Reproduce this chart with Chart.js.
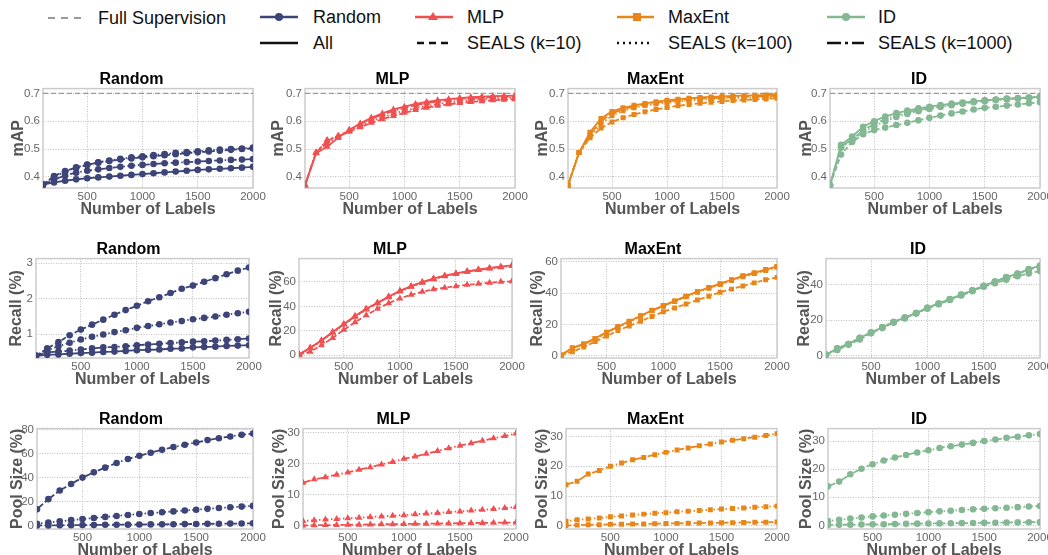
<!DOCTYPE html>
<html>
<head>
<meta charset="utf-8">
<script src="https://cdn.jsdelivr.net/npm/chart.js@4.4.1/dist/chart.umd.min.js"></script>
<style>
  body { margin: 0; width: 1048px; height: 555px; overflow: hidden; background: #fff; position: relative; }
  canvas { position: absolute; }
  #legend { position: absolute; left: 0; top: 0; }
</style>
</head>
<body>
<svg id="legend" width="1048" height="60" font-family="Liberation Sans, Arial, sans-serif" font-size="18" fill="#111">
  <line x1="48" y1="18" x2="83" y2="18" stroke="#9a9a9a" stroke-width="2" stroke-dasharray="7,6"/>
  <text x="98" y="18" dominant-baseline="central">Full Supervision</text>

  <line x1="260" y1="17" x2="298" y2="17" stroke="#3c4478" stroke-width="2.5"/>
  <circle cx="279" cy="17" r="4" fill="#3c4478"/>
  <text x="313" y="17" dominant-baseline="central">Random</text>

  <line x1="415" y1="17" x2="453" y2="17" stroke="#f05050" stroke-width="2.5"/>
  <polygon points="433,12 438,20 428,20" fill="#f05050"/>
  <text x="467" y="17" dominant-baseline="central">MLP</text>

  <line x1="617" y1="17" x2="654" y2="17" stroke="#e8861a" stroke-width="2.5"/>
  <rect x="633" y="13" width="8" height="8" fill="#e8861a"/>
  <text x="668" y="17" dominant-baseline="central">MaxEnt</text>

  <line x1="827" y1="17" x2="865" y2="17" stroke="#83b892" stroke-width="2.5"/>
  <circle cx="846" cy="17" r="4" fill="#83b892"/>
  <text x="878" y="17" dominant-baseline="central">ID</text>

  <line x1="260" y1="43" x2="298" y2="43" stroke="#111" stroke-width="2.5"/>
  <text x="313" y="43" dominant-baseline="central">All</text>

  <line x1="417" y1="43" x2="453" y2="43" stroke="#111" stroke-width="2.5" stroke-dasharray="7,5"/>
  <text x="467" y="43" dominant-baseline="central">SEALS (k=10)</text>

  <line x1="617" y1="43" x2="653" y2="43" stroke="#111" stroke-width="2.5" stroke-dasharray="2,4"/>
  <text x="668" y="43" dominant-baseline="central">SEALS (k=100)</text>

  <line x1="827" y1="43" x2="864" y2="43" stroke="#111" stroke-width="2.5" stroke-dasharray="14,4,3,4"/>
  <text x="878" y="43" dominant-baseline="central">SEALS (k=1000)</text>
</svg>
<script>
// x axis: number of labels
const xs = [100,200,300,400,500,600,700,800,900,1000,1100,1200,1300,1400,1500,1600,1700,1800,1900,2000];
const xTicks = [500,1000,1500,2000];
const fullSupervisionMap = 0.70;

// ---- mAP ----
const mapRandomAll   = [0.372,0.380,0.386,0.391,0.395,0.398,0.401,0.404,0.407,0.410,0.413,0.416,0.419,0.422,0.425,0.427,0.429,0.431,0.433,0.436];
const mapRandomK10   = [0.372,0.403,0.421,0.434,0.444,0.451,0.457,0.462,0.466,0.470,0.474,0.478,0.481,0.485,0.488,0.491,0.494,0.497,0.500,0.502];
const mapRandomK100  = [0.372,0.400,0.418,0.432,0.443,0.452,0.459,0.465,0.470,0.474,0.478,0.482,0.486,0.489,0.492,0.495,0.498,0.500,0.502,0.505];
const mapRandomK1000 = [0.372,0.390,0.405,0.415,0.422,0.427,0.432,0.436,0.440,0.443,0.446,0.449,0.451,0.453,0.455,0.457,0.459,0.461,0.462,0.464];

const mapMlpAll   = [0.370,0.485,0.508,0.540,0.568,0.592,0.612,0.628,0.642,0.652,0.662,0.669,0.675,0.679,0.683,0.686,0.688,0.690,0.691,0.692];
const mapMlpK10   = [0.370,0.486,0.530,0.546,0.562,0.578,0.594,0.607,0.619,0.630,0.640,0.648,0.655,0.661,0.665,0.669,0.672,0.675,0.677,0.679];
const mapMlpK100  = [0.370,0.487,0.532,0.548,0.565,0.583,0.600,0.614,0.627,0.638,0.647,0.655,0.662,0.667,0.672,0.676,0.679,0.681,0.683,0.684];
const mapMlpK1000 = [0.370,0.488,0.520,0.545,0.568,0.590,0.608,0.624,0.637,0.648,0.658,0.665,0.671,0.676,0.680,0.683,0.685,0.687,0.688,0.689];

const mapMaxEntAll   = [0.370,0.487,0.560,0.610,0.635,0.648,0.657,0.664,0.670,0.675,0.679,0.682,0.685,0.687,0.689,0.691,0.692,0.693,0.694,0.695];
const mapMaxEntK10   = [0.370,0.487,0.540,0.575,0.597,0.612,0.624,0.634,0.642,0.649,0.655,0.660,0.664,0.668,0.671,0.674,0.676,0.678,0.680,0.682];
const mapMaxEntK100  = [0.370,0.487,0.545,0.590,0.620,0.637,0.648,0.656,0.662,0.667,0.671,0.674,0.677,0.679,0.681,0.683,0.684,0.685,0.686,0.687];
const mapMaxEntK1000 = [0.370,0.487,0.552,0.600,0.628,0.643,0.653,0.660,0.666,0.671,0.675,0.678,0.681,0.683,0.685,0.687,0.688,0.689,0.690,0.691];

const mapIdAll   = [0.370,0.515,0.545,0.580,0.600,0.617,0.629,0.638,0.646,0.652,0.658,0.663,0.667,0.671,0.675,0.678,0.681,0.683,0.685,0.688];
const mapIdK10   = [0.370,0.480,0.525,0.553,0.568,0.577,0.586,0.594,0.603,0.612,0.620,0.628,0.635,0.642,0.648,0.652,0.656,0.660,0.664,0.668];
const mapIdK100  = [0.370,0.505,0.530,0.560,0.582,0.600,0.615,0.626,0.636,0.644,0.651,0.657,0.663,0.668,0.672,0.676,0.679,0.681,0.683,0.686];
const mapIdK1000 = [0.370,0.508,0.535,0.567,0.590,0.607,0.621,0.631,0.640,0.647,0.654,0.660,0.665,0.670,0.674,0.677,0.680,0.682,0.684,0.687];

// ---- Recall (%) ----
const recRandomAll   = [0.39,0.42,0.43,0.45,0.47,0.48,0.50,0.51,0.53,0.55,0.56,0.57,0.59,0.60,0.63,0.64,0.65,0.67,0.68,0.69];
const recRandomK10   = [0.39,0.60,0.78,0.97,1.13,1.27,1.41,1.55,1.68,1.80,1.93,2.04,2.16,2.28,2.37,2.48,2.58,2.69,2.79,2.88];
const recRandomK100  = [0.39,0.55,0.66,0.76,0.85,0.93,0.99,1.06,1.11,1.18,1.23,1.28,1.33,1.37,1.42,1.46,1.50,1.55,1.59,1.63];
const recRandomK1000 = [0.39,0.49,0.51,0.54,0.57,0.60,0.63,0.64,0.66,0.69,0.71,0.73,0.75,0.77,0.79,0.80,0.82,0.84,0.86,0.88];

const recMlpAll   = [0.5,6.0,12.0,19.0,25.5,32.0,38.0,43.0,48.0,52.7,56.6,60.0,62.8,65.2,67.0,68.8,70.2,71.5,72.6,73.7];
const recMlpK10   = [0.5,2.7,8.0,14.0,20.7,26.9,32.7,38.0,42.6,46.5,49.5,51.9,54.0,55.3,56.6,57.7,58.5,59.3,60.1,60.6];
const recMlpK100  = [0.5,5.6,11.5,18.4,25.0,31.4,37.4,42.5,47.4,52.1,56.0,59.4,62.3,64.7,66.6,68.4,69.8,71.1,72.2,73.3];
const recMlpK1000 = [0.5,5.9,11.9,18.8,25.3,31.8,37.8,42.8,47.8,52.5,56.4,59.8,62.6,65.0,66.8,68.6,70.0,71.3,72.4,73.5];

const recMaxEntAll   = [0.3,5.0,7.5,11.0,15.0,18.5,22.0,25.5,29.0,32.0,35.0,38.0,41.0,43.5,46.0,48.5,51.0,53.0,55.0,57.0];
const recMaxEntK10   = [0.3,2.5,5.5,9.0,12.5,16.0,19.0,22.0,25.0,28.0,30.5,33.0,35.5,38.0,40.5,42.5,44.5,46.5,48.5,50.0];
const recMaxEntK100  = [0.3,4.6,7.2,10.6,14.6,18.1,21.6,25.1,28.6,31.6,34.6,37.6,40.5,43.0,45.5,48.0,50.4,52.4,54.4,56.4];
const recMaxEntK1000 = [0.3,4.8,7.4,10.8,14.8,18.3,21.8,25.3,28.8,31.8,34.8,37.8,40.8,43.3,45.8,48.3,50.7,52.7,54.7,56.7];

const recIdAll   = [0.3,4.0,6.5,10.0,13.0,16.0,19.0,21.5,24.0,27.0,29.5,32.0,34.5,37.0,39.5,42.0,44.5,46.5,49.0,51.0];
const recIdK10   = [0.3,3.0,6.0,9.0,12.5,15.5,18.5,21.0,24.0,26.5,29.0,31.5,34.0,36.5,39.0,41.0,43.0,45.0,46.5,48.0];
const recIdK100  = [0.3,3.8,6.4,9.8,12.9,15.9,18.9,21.4,23.9,26.9,29.3,31.8,34.3,36.8,39.3,41.7,44.1,46.1,48.5,50.5];
const recIdK1000 = [0.3,3.9,6.5,9.9,13.0,16.0,19.0,21.5,24.0,27.0,29.4,31.9,34.4,36.9,39.4,41.9,44.3,46.3,48.8,50.8];

// ---- Pool Size (%) ----
const poolRandomK10   = [0.2,0.3,0.4,0.5,0.6,0.7,0.8,0.85,0.95,1.05,1.15,1.2,1.3,1.4,1.5,1.6,1.7,1.8,1.9,2.0];
const poolRandomK100  = [1.6,2.7,3.7,4.7,5.6,6.5,7.4,8.2,9.0,9.8,10.6,11.3,12.0,12.7,13.4,14.1,14.8,15.4,16.0,16.6];
const poolRandomK1000 = [13.8,22.2,29.4,34.9,40.2,44.6,48.5,52.4,55.7,58.4,61.0,63.4,65.7,67.6,69.5,71.5,73.1,74.5,75.9,77.0];

const poolMlpK10   = [0.1,0.15,0.2,0.25,0.3,0.35,0.4,0.45,0.5,0.55,0.6,0.65,0.7,0.75,0.8,0.85,0.9,0.95,1.0,1.05];
const poolMlpK100  = [1.5,1.8,2.0,2.2,2.4,2.6,2.8,3.0,3.2,3.4,3.7,3.9,4.1,4.4,4.6,4.9,5.1,5.4,5.7,6.0];
const poolMlpK1000 = [13.8,14.9,15.6,16.4,17.1,18.0,18.8,19.7,20.5,21.5,22.2,23.1,24.0,24.9,25.7,26.5,27.3,28.1,28.8,29.6];

const poolMaxEntK10   = [0.1,0.2,0.3,0.35,0.45,0.5,0.55,0.6,0.7,0.75,0.8,0.85,0.9,0.95,1.0,1.05,1.1,1.15,1.2,1.25];
const poolMaxEntK100  = [1.5,2.0,2.3,2.6,3.0,3.3,3.6,3.9,4.2,4.4,4.7,4.9,5.1,5.4,5.6,5.8,6.0,6.2,6.4,6.6];
const poolMaxEntK1000 = [13.8,15.0,17.4,18.6,20.0,21.1,22.2,23.0,23.9,24.7,25.5,26.2,26.9,27.5,28.2,28.8,29.3,29.8,30.4,31.0];

const poolIdK10   = [0.1,0.2,0.25,0.3,0.35,0.4,0.5,0.55,0.6,0.65,0.7,0.75,0.8,0.85,0.9,0.95,1.0,1.05,1.1,1.15];
const poolIdK100  = [1.5,2.0,2.4,2.8,3.2,3.5,3.8,4.1,4.4,4.7,5.0,5.2,5.5,5.7,5.9,6.1,6.3,6.5,6.7,6.9];
const poolIdK1000 = [13.9,15.6,18.2,20.2,21.8,23.1,24.2,25.1,26.0,26.8,27.6,28.2,28.8,29.4,30.1,30.6,31.2,31.6,32.1,32.6];

// tick labels on the y axes
const mapTicks = [0.4,0.5,0.6,0.7];
const recRandomTicks = [1,2,3];
const rec60Ticks = [0,20,40,60];
const rec40Ticks = [0,20,40];
const poolRandomTicks = [0,20,40,60,80];
const pool30Ticks = [0,10,20,30];

const FONT = '"Liberation Sans", Arial, sans-serif';
const methods = {
  Random: { color: '#3c4478', marker: 'circle', r: 3.3 },
  MLP:    { color: '#f05050', marker: 'triangle', r: 4 },
  MaxEnt: { color: '#e8861a', marker: 'rect', r: 3.5 },
  ID:     { color: '#83b892', marker: 'circle', r: 3.3 },
};
const dashes = { all: [], k10: [5, 2.5], k100: [1.5, 2.5], k1000: [8, 2.5, 1.5, 2.5] };

const frame = {
  id: 'frame',
  beforeDatasetsDraw(chart) {
    const a = chart.chartArea, ctx = chart.ctx;
    ctx.save();
    ctx.strokeStyle = '#cccccc';
    ctx.lineWidth = 1.5;
    ctx.strokeRect(a.left, a.top, a.right - a.left, a.bottom - a.top);
    ctx.restore();
  }
};

function series(vals, m, style) {
  return {
    data: xs.map((x, i) => ({ x: x, y: vals[i] })),
    borderColor: m.color, backgroundColor: m.color,
    pointBackgroundColor: m.color, pointBorderColor: m.color,
    borderWidth: 1.8, borderDash: dashes[style],
    pointStyle: m.marker, pointRadius: m.r, pointBorderWidth: 0,
    tension: 0
  };
}

function panel(p) {
  const m = methods[p.title];
  const [pl, pt, pr, pb] = p.plot;
  const left = p.ytx - 9, top = pt - 19;
  const rightPad = 16, xh = 30;
  const w = pr - left + rightPad, h = pb - top + xh;
  const yw = pl - left;
  const cv = document.createElement('canvas');
  cv.width = w; cv.height = h;
  cv.style.left = left + 'px'; cv.style.top = top + 'px';
  cv.style.width = w + 'px'; cv.style.height = h + 'px';
  document.body.appendChild(cv);

  const ds = [];
  if (p.full) {
    ds.push({ data: [{ x: xs[0], y: p.full }, { x: xs[xs.length - 1], y: p.full }],
      borderColor: '#9a9a9a', borderWidth: 1.2, borderDash: [5, 3], pointRadius: 0 });
  }
  p.lines.forEach(l => ds.push(series(l[0], m, l[1])));

  new Chart(cv, {
    type: 'line',
    data: { datasets: ds },
    options: {
      responsive: false, animation: false,
      layout: { padding: { left: 0, top: 0, right: rightPad, bottom: 0 } },
      plugins: {
        legend: { display: false }, tooltip: { enabled: false },
        title: { display: true, text: p.title, color: '#000',
          font: { family: FONT, size: 16, weight: 'bold', lineHeight: 1.1 }, padding: { top: 2, bottom: 0 } }
      },
      scales: {
        x: {
          type: 'linear', min: 100, max: 2000,
          afterBuildTicks: s => { s.ticks = xTicks.map(v => ({ value: v })); },
          afterFit: s => { s.height = xh; s.paddingLeft = 0; s.paddingRight = 0; },
          grid: { color: '#b0b0b0', lineWidth: 0.8, drawTicks: false },
          border: { display: false, dash: [1, 1.5] },
          ticks: { padding: 2, color: '#666', font: { family: FONT, size: 11.5 }, maxRotation: 0, callback: v => String(v) },
          title: { display: true, text: 'Number of Labels', color: '#555', padding: 0,
            font: { family: FONT, size: 16, weight: 'bold', lineHeight: 1.1 } }
        },
        y: {
          min: p.ymin, max: p.ymax,
          afterBuildTicks: s => { s.ticks = p.yticks.map(v => ({ value: v })); },
          afterFit: s => { s.width = yw; s.paddingTop = 0; s.paddingBottom = 0; },
          grid: { color: '#b0b0b0', lineWidth: 0.8, drawTicks: false },
          border: { display: false, dash: [1, 1.5] },
          ticks: { padding: 3, color: '#666', font: { family: FONT, size: 11.5 }, callback: v => String(v) },
          title: { display: true, text: p.ylabel, color: '#555', padding: 0,
            font: { family: FONT, size: 16, weight: 'bold', lineHeight: 1.1 } }
        }
      }
    },
    plugins: [frame]
  });
}

const panels = [
  // row 1: mAP
  { title: 'Random', ylabel: 'mAP', plot: [43, 88, 253, 188], ytx: 19, ymin: 0.36, ymax: 0.717, yticks: mapTicks, full: fullSupervisionMap,
    lines: [[mapRandomAll, 'all'], [mapRandomK10, 'k10'], [mapRandomK100, 'k100'], [mapRandomK1000, 'k1000']] },
  { title: 'MLP', ylabel: 'mAP', plot: [305, 88, 515, 188], ytx: 279, ymin: 0.36, ymax: 0.717, yticks: mapTicks, full: fullSupervisionMap,
    lines: [[mapMlpAll, 'all'], [mapMlpK10, 'k10'], [mapMlpK100, 'k100'], [mapMlpK1000, 'k1000']] },
  { title: 'MaxEnt', ylabel: 'mAP', plot: [568, 88, 777, 188], ytx: 543, ymin: 0.36, ymax: 0.717, yticks: mapTicks, full: fullSupervisionMap,
    lines: [[mapMaxEntAll, 'all'], [mapMaxEntK10, 'k10'], [mapMaxEntK100, 'k100'], [mapMaxEntK1000, 'k1000']] },
  { title: 'ID', ylabel: 'mAP', plot: [830, 88, 1040, 188], ytx: 807, ymin: 0.36, ymax: 0.717, yticks: mapTicks, full: fullSupervisionMap,
    lines: [[mapIdAll, 'all'], [mapIdK10, 'k10'], [mapIdK100, 'k100'], [mapIdK1000, 'k1000']] },
  // row 2: recall
  { title: 'Random', ylabel: 'Recall (%)', plot: [36, 258, 249, 358], ytx: 17, ymin: 0.33, ymax: 3.13, yticks: recRandomTicks,
    lines: [[recRandomAll, 'all'], [recRandomK10, 'k10'], [recRandomK100, 'k100'], [recRandomK1000, 'k1000']] },
  { title: 'MLP', ylabel: 'Recall (%)', plot: [299, 258, 512, 358], ytx: 277, ymin: -2.4, ymax: 79.2, yticks: rec60Ticks,
    lines: [[recMlpAll, 'all'], [recMlpK10, 'k10'], [recMlpK100, 'k100'], [recMlpK1000, 'k1000']] },
  { title: 'MaxEnt', ylabel: 'Recall (%)', plot: [561, 258, 777, 358], ytx: 538, ymin: -1.5, ymax: 62, yticks: rec60Ticks,
    lines: [[recMaxEntAll, 'all'], [recMaxEntK10, 'k10'], [recMaxEntK100, 'k100'], [recMaxEntK1000, 'k1000']] },
  { title: 'ID', ylabel: 'Recall (%)', plot: [826, 258, 1040, 358], ytx: 805, ymin: -1.5, ymax: 55, yticks: rec40Ticks,
    lines: [[recIdAll, 'all'], [recIdK10, 'k10'], [recIdK100, 'k100'], [recIdK1000, 'k1000']] },
  // row 3: pool size
  { title: 'Random', ylabel: 'Pool Size (%)', plot: [37, 428, 253, 529], ytx: 18, ymin: -2.7, ymax: 81.1, yticks: poolRandomTicks,
    lines: [[poolRandomK10, 'k10'], [poolRandomK100, 'k100'], [poolRandomK1000, 'k1000']] },
  { title: 'MLP', ylabel: 'Pool Size (%)', plot: [303, 428, 516, 529], ytx: 280, ymin: -1.05, ymax: 31.2, yticks: pool30Ticks,
    lines: [[poolMlpK10, 'k10'], [poolMlpK100, 'k100'], [poolMlpK1000, 'k1000']] },
  { title: 'MaxEnt', ylabel: 'Pool Size (%)', plot: [566, 428, 777, 529], ytx: 543, ymin: -1.1, ymax: 32.7, yticks: pool30Ticks,
    lines: [[poolMaxEntK10, 'k10'], [poolMaxEntK100, 'k100'], [poolMaxEntK1000, 'k1000']] },
  { title: 'ID', ylabel: 'Pool Size (%)', plot: [828, 428, 1040, 529], ytx: 807, ymin: -1.3, ymax: 34.5, yticks: pool30Ticks,
    lines: [[poolIdK10, 'k10'], [poolIdK100, 'k100'], [poolIdK1000, 'k1000']] },
];

panels.forEach(panel);
</script>
</body>
</html>
